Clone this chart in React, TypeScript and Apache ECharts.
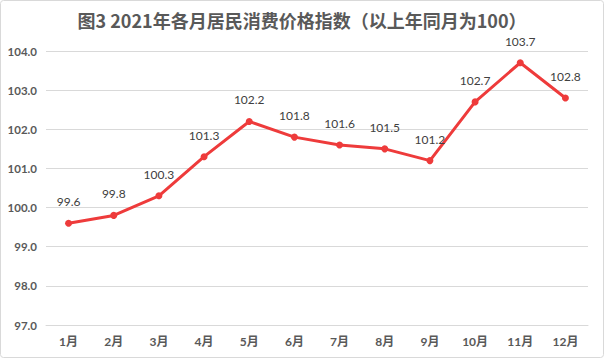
import React, { useEffect, useRef } from "react";
import * as echarts from "echarts";

const months = ["1月", "2月", "3月", "4月", "5月", "6月", "7月", "8月", "9月", "10月", "11月", "12月"];
const cpi = [99.6, 99.8, 100.3, 101.3, 102.2, 101.8, 101.6, 101.5, 101.2, 102.7, 103.7, 102.8];
const yMin = 97;
const yMax = 104;
const title = "图3 2021年各月居民消费价格指数（以上年同月为100）";

const FONT = 'Lato, "Noto Sans CJK SC", sans-serif';

export default function App() {
  const ref = useRef<HTMLDivElement>(null);
  useEffect(() => {
    if (!ref.current) return;
    const chart = echarts.init(ref.current, null, { renderer: "svg" });
    chart.setOption({
      animation: false,
      backgroundColor: "#ffffff",
      title: {
        text: title,
        left: "center",
        top: 6,
        textStyle: {
          fontFamily: '"Noto Sans CJK SC", sans-serif',
          fontSize: 18,
          fontWeight: "bold",
          color: "#595959",
        },
      },
      graphic: [
        {
          type: "rect",
          shape: { x: 0.5, y: 0.5, width: 603, height: 357, r: 3 },
          style: { fill: "none", stroke: "#d9d9d9", lineWidth: 1 },
          silent: true,
        },
      ],
      grid: { left: 46, right: 16, top: 51, bottom: 33, containLabel: false },
      xAxis: {
        type: "category",
        data: months,
        boundaryGap: true,
        axisLine: { show: true, lineStyle: { color: "#d9d9d9", width: 1 } },
        axisTick: { show: false },
        axisLabel: {
          color: "#595959",
          fontFamily: FONT,
          fontSize: 12,
          fontWeight: "bold",
          margin: 10,
        },
      },
      yAxis: {
        type: "value",
        min: yMin,
        max: yMax,
        interval: 1,
        axisLine: { show: false },
        axisTick: { show: false },
        splitLine: { lineStyle: { color: "#d9d9d9", width: 1 } },
        axisLabel: {
          color: "#595959",
          fontFamily: FONT,
          fontSize: 11.5,
          fontWeight: "bold",
          margin: 9,
          formatter: (v: number) => v.toFixed(1),
        },
      },
      series: [
        {
          type: "line",
          data: cpi,
          symbol: "circle",
          symbolSize: 7,
          lineStyle: { color: "#ee3b3b", width: 3 },
          itemStyle: { color: "#ee3b3b" },
          label: {
            show: true,
            position: "top",
            distance: 12,
            color: "#404040",
            fontFamily: FONT,
            fontSize: 12,
            formatter: (p: any) => p.value.toFixed(1),
          },
        },
      ],
    });
    return () => chart.dispose();
  }, []);
  return (
    <div
      ref={ref}
      style={{ position: "fixed", left: 0, top: 0, width: 604, height: 358 }}
    />
  );
}
